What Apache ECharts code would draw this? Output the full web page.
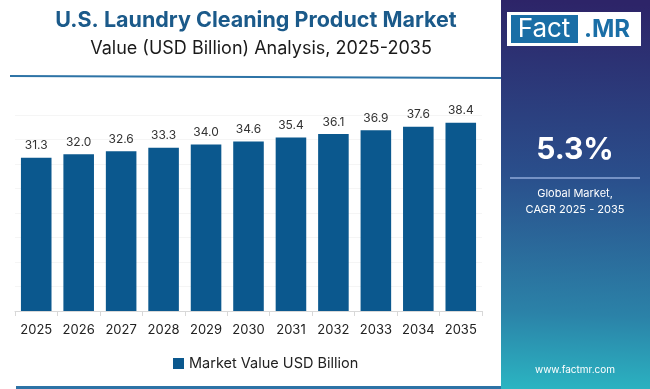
<!DOCTYPE html>
<html><head><meta charset="utf-8">
<script src="https://cdn.jsdelivr.net/npm/echarts@6/dist/echarts.min.js"></script>
<style>html,body{margin:0;padding:0;background:#fff}#c{width:650px;height:389px}</style>
</head><body><div id="c"></div>
<script>
const years = ['2025','2026','2027','2028','2029','2030','2031','2032','2033','2034','2035'];
const marketValue = [31.3, 32.0, 32.6, 33.3, 34.0, 34.6, 35.4, 36.1, 36.9, 37.6, 38.4];
const seriesName = 'Market Value USD Billion';
const titleText = 'U.S. Laundry Cleaning Product Market';
const subtitleText = 'Value (USD Billion) Analysis, 2025-2035';
const cagrText = '5.3%';
const cagrLabel = ['Global Market,', 'CAGR 2025 - 2035'];
const siteText = 'www.factmr.com';

const FONT = 'Inter, "Open Sans", sans-serif';
const chart = echarts.init(document.getElementById('c'), null, {renderer: 'canvas'});
chart.setOption({
  animation: false,
  backgroundColor: '#ffffff',
  title: [
    {text: titleText, left: 251, top: 5, textAlign: 'center',
     textStyle: {fontFamily: FONT, fontWeight: 'bold', fontSize: 21.5, color: '#1b5a8a'}},
    {text: subtitleText, left: 256, top: 35, textAlign: 'center',
     textStyle: {fontFamily: FONT, fontWeight: 'normal', fontSize: 18, color: '#1a1a1a'}}
  ],
  legend: {
    data: [seriesName], left: 168, top: 351, itemWidth: 11, itemHeight: 11, icon: 'rect',
    textStyle: {fontFamily: FONT, fontSize: 14.5, color: '#222'}, itemGap: 5
  },
  grid: {left: 15, right: 168, top: 115, bottom: 78},
  xAxis: {
    type: 'category', data: years,
    axisLine: {lineStyle: {color: '#d8d8d8'}},
    axisTick: {show: true, lineStyle: {color: '#d8d8d8'}},
    axisLabel: {interval: 0, fontFamily: FONT, fontSize: 13, color: '#222', margin: 13}
  },
  yAxis: {
    type: 'value', min: 0, max: 40, interval: 5,
    axisLabel: {show: false}, axisLine: {show: false}, axisTick: {show: false},
    splitLine: {lineStyle: {color: '#f5f5f5'}}
  },
  series: [{
    name: seriesName, type: 'bar', data: marketValue, barWidth: '72%',
    itemStyle: {color: '#0b588e'},
    label: {show: true, position: 'top', distance: 6, fontFamily: FONT, fontSize: 12, color: '#333',
      formatter: p => p.value.toFixed(1)}
  }],
  graphic: [
    {type: 'line', shape: {x1: 10, y1: 76, x2: 501, y2: 78}, style: {stroke: '#2d73a6', lineWidth: 2}},
    {type: 'line', shape: {x1: 16, y1: 387.5, x2: 501, y2: 387.5}, style: {stroke: '#2d73a6', lineWidth: 3}},
    {type: 'rect', shape: {x: 501, y: 0, width: 149, height: 389},
     style: {fill: new echarts.graphic.LinearGradient(0.1, 0, 0, 1, [
       {offset: 0, color: '#2d2468'}, {offset: 0.45, color: '#2a4f8c'}, {offset: 0.8, color: '#2b82a8'}, {offset: 1, color: '#2bb5c2'}])}},
    {type: 'rect', shape: {x: 507, y: 12, width: 134, height: 34}, style: {fill: '#ffffff'}},
    {type: 'rect', shape: {x: 511, y: 15, width: 67, height: 28}, style: {fill: '#1a6ea6'}},
    {type: 'text', x: 544, y: 29, style: {text: 'Fact', fontFamily: FONT, fontSize: 26, fill: '#ffffff', align: 'center', verticalAlign: 'middle'}},
    {type: 'text', x: 607, y: 30, style: {text: '.MR', fontFamily: FONT, fontWeight: 'bold', fontSize: 24, fill: '#1a6ea6', align: 'center', verticalAlign: 'middle'}},
    {type: 'text', x: 575, y: 150, style: {text: cagrText, fontFamily: FONT, fontWeight: 'bold', fontSize: 30, fill: '#ffffff', align: 'center', verticalAlign: 'middle'}},
    {type: 'line', shape: {x1: 510, y1: 178, x2: 640, y2: 178}, style: {stroke: '#8fa8d8', lineWidth: 1.5}},
    {type: 'text', x: 575, y: 194, style: {text: cagrLabel[0], fontFamily: FONT, fontSize: 11, fill: '#ffffff', align: 'center', verticalAlign: 'middle'}},
    {type: 'text', x: 575, y: 210, style: {text: cagrLabel[1], fontFamily: FONT, fontSize: 11, fill: '#ffffff', align: 'center', verticalAlign: 'middle'}},
    {type: 'text', x: 575, y: 370, style: {text: siteText, fontFamily: FONT, fontSize: 10, fill: '#ffffff', align: 'center', verticalAlign: 'middle'}}
  ]
});
</script></body></html>
